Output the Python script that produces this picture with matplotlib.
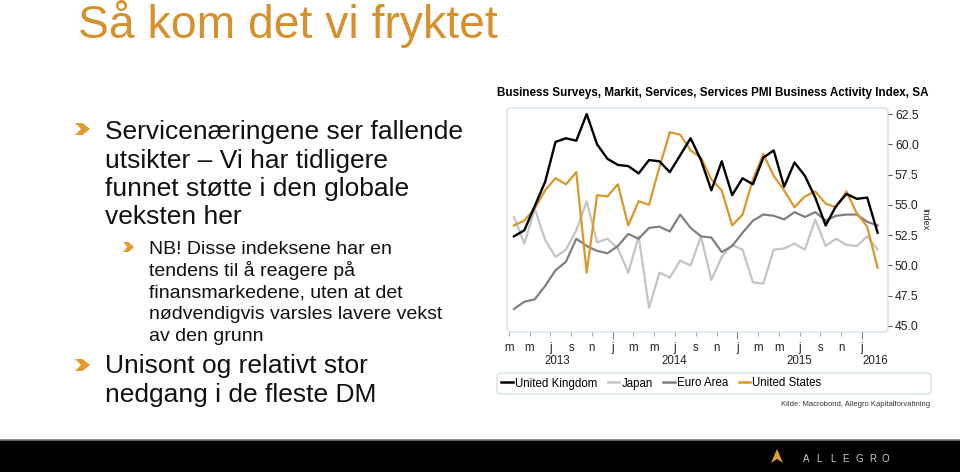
import numpy as np
import matplotlib
matplotlib.use('Agg')
import matplotlib.pyplot as plt
from matplotlib.patches import FancyBboxPatch, Rectangle, Polygon
from matplotlib.lines import Line2D

plt.rcParams['font.family'] = ['Liberation Sans', 'DejaVu Sans']

# Services PMI, månedlig, mars 2013 - februar 2016
uk = [52.4, 52.9, 54.9, 56.9, 60.2, 60.5, 60.3, 62.5, 60.0, 58.8,
      58.3, 58.2, 57.6, 58.7, 58.6, 57.7, 59.1, 60.5, 58.7, 56.2,
      58.6, 55.8, 57.2, 56.7, 58.9, 59.5, 56.5, 58.5, 57.4, 55.6,
      53.3, 54.9, 55.9, 55.5, 55.6, 52.7]
japan = [54.0, 51.8, 54.7, 52.1, 50.7, 51.3, 52.9, 55.3, 51.9, 52.2,
         51.4, 49.4, 52.4, 46.5, 49.4, 49.0, 50.4, 50.0, 52.4, 48.8,
         50.7, 51.7, 51.3, 48.6, 48.5, 51.3, 51.4, 51.8, 51.3, 53.8,
         51.6, 52.2, 51.7, 51.6, 52.4, 51.3]
euro = [46.4, 47.0, 47.2, 48.3, 49.6, 50.3, 52.2, 51.6, 51.2, 51.0,
        51.6, 52.6, 52.2, 53.1, 53.2, 52.8, 54.2, 53.1, 52.4, 52.3,
        51.1, 51.6, 52.7, 53.7, 54.2, 54.1, 53.8, 54.4, 54.0, 54.4,
        53.7, 54.1, 54.2, 54.2, 53.6, 53.3]
us = [53.3, 53.7, 54.7, 56.2, 57.2, 56.7, 57.7, 49.4, 55.8, 55.7,
      56.7, 53.3, 55.3, 55.0, 58.1, 61.0, 60.8, 59.5, 58.9, 57.1,
      56.2, 53.3, 54.2, 57.1, 59.2, 57.4, 56.2, 54.8, 55.7, 56.1,
      55.1, 54.8, 56.1, 54.3, 53.2, 49.8]

month_labels = ['m', 'm', 'j', 's', 'n', 'j'] * 3
years = ['2013', '2014', '2015', '2016']
year_pos = [4.2, 15.4, 27.5, 34.8]
yticks = [45.0, 47.5, 50.0, 52.5, 55.0, 57.5, 60.0, 62.5]

ORANGE = '#D6912C'
US_COL = '#D9982A'
FRAME = '#D3E2E2'

W, H = 960, 472


def fx(x):
    return x / W


def fy(y):
    return 1 - y / H


def chevron(x0, y0, w, h, color):
    # pilspiss-punkt, tegnet i pikselkoordinater
    pts = [(x0, y0), (x0 + 0.5 * w, y0), (x0 + w, y0 + h / 2),
           (x0 + 0.5 * w, y0 + h), (x0, y0 + h), (x0 + 0.4 * w, y0 + h / 2)]
    fig.add_artist(Polygon([(fx(a), fy(b)) for a, b in pts], closed=True,
                           transform=fig.transFigure, fc=color, ec='none'))


fig = plt.figure(figsize=(9.6, 4.72), dpi=100)
fig.patch.set_facecolor('white')

# tittel
fig.text(fx(78), fy(37.5), 'Så kom det vi fryktet', fontsize=33.3, color=ORANGE, va='baseline')

# punkter til venstre
main1 = ['Servicenæringene ser fallende', 'utsikter – Vi har tidligere',
         'funnet støtte i den globale', 'veksten her']
sub1 = ['NB! Disse indeksene har en', 'tendens til å reagere på',
        'finansmarkedene, uten at det', 'nødvendigvis varsles lavere vekst',
        'av den grunn']
main2 = ['Unisont og relativt stor', 'nedgang i de fleste DM']

for i, line in enumerate(main1):
    fig.text(fx(105), fy(139.3 + 28.4 * i), line, fontsize=19, color='#111111', va='baseline')
for i, line in enumerate(sub1):
    fig.text(fx(149), fy(254 + 21.7 * i), line, fontsize=14, color='#111111', va='baseline')
for i, line in enumerate(main2):
    fig.text(fx(105), fy(373.3 + 28.4 * i), line, fontsize=19, color='#111111', va='baseline')

chevron(75, 123, 15, 12, '#E39A2A')
chevron(123, 242, 11, 10, '#E39A2A')
chevron(75, 359, 15, 12, '#E39A2A')

# diagram
fig.text(fx(497), fy(93), 'Business Surveys, Markit, Services, Services PMI Business Activity Index, SA',
         fontsize=8.4, fontweight='bold', va='center', ha='left')

ax = fig.add_axes([fx(507), fy(332), (888 - 507) / W, (332 - 108) / H])
x = np.arange(len(uk))
ax.plot(x, japan, color='#C4C4C4', lw=1.6, zorder=2)
ax.plot(x, euro, color='#808080', lw=1.6, zorder=3)
ax.plot(x, us, color=US_COL, lw=1.6, zorder=4)
ax.plot(x, uk, color='black', lw=1.7, zorder=5)

ax.set_xlim(-0.67, 36)
ax.set_ylim(44.5, 63.0)
for s in ax.spines.values():
    s.set_visible(False)
ax.add_patch(FancyBboxPatch((0, 0), 1, 1, boxstyle='round,pad=0,rounding_size=0.015',
                            transform=ax.transAxes, fc='none', ec=FRAME, lw=1.0,
                            clip_on=False, zorder=1))

ax.yaxis.tick_right()
ax.set_yticks(yticks)
ax.set_yticklabels([f'{v:.1f}' for v in yticks])
ax.tick_params(axis='y', which='both', length=3, width=0.8, color='#555555', pad=2,
               labelsize=8.8, labelcolor='#222222', left=False)

tick_pos = [-0.5 + 2 * k for k in range(18)]
jan_idx = (5, 11, 17)
major = [tick_pos[i] for i in jan_idx]
minor = [p for i, p in enumerate(tick_pos) if i not in jan_idx]
ax.set_xticks(major)
ax.set_xticklabels([month_labels[i] for i in jan_idx])
ax.set_xticks(minor, minor=True)
ax.set_xticklabels([m for i, m in enumerate(month_labels) if i not in jan_idx], minor=True)
ax.tick_params(axis='x', which='major', length=5, width=0.8, color='#888888', pad=2,
               labelsize=8.3, labelcolor='#222222')
ax.tick_params(axis='x', which='minor', length=3, width=0.8, color='#AAAAAA', pad=4,
               labelsize=8.3, labelcolor='#222222')

for yr, pos in zip(years, year_pos):
    ax.text(pos, -0.128, yr, transform=ax.get_xaxis_transform(), ha='center', va='center',
            fontsize=8.3, color='#222222')

fig.text(fx(925), fy(219), 'Index', rotation=270, fontsize=6.5, ha='center', va='center',
         color='#222222')

# legende
fig.add_artist(FancyBboxPatch((fx(497), fy(394)), (931 - 497) / W, (394 - 373) / H,
                              boxstyle='round,pad=0,rounding_size=0.006',
                              transform=fig.transFigure, fc='none', ec=FRAME, lw=1.0))
handles = [Line2D([], [], color='black', lw=1.8),
           Line2D([], [], color='#C4C4C4', lw=1.8),
           Line2D([], [], color='#808080', lw=1.8),
           Line2D([], [], color=US_COL, lw=1.8)]
labels = ['United Kingdom', 'Japan', 'Euro Area', 'United States']
fig.legend(handles, labels, loc='center left', bbox_to_anchor=(fx(501), fy(383.5)), ncol=4,
           frameon=False, handlelength=1.0, handletextpad=0.2, columnspacing=0.9,
           fontsize=8.3, borderaxespad=0, borderpad=0)

fig.text(fx(930), fy(405), 'Kilde: Macrobond, Allegro Kapitalforvaltning', ha='right',
         va='center', fontsize=5.5, color='#333333')

# bunnlinje med logo
fig.add_artist(Rectangle((0, 0), 1, fy(440), transform=fig.transFigure, fc='black', ec='none'))
fig.add_artist(Line2D([0, 1], [fy(440), fy(440)], transform=fig.transFigure, color='#777777', lw=1.2))
fig.add_artist(Polygon([(fx(771), fy(463)), (fx(777), fy(449)), (fx(783), fy(463)),
                        (fx(777), fy(459))], closed=True, transform=fig.transFigure,
                       fc='#E0A030', ec='none'))
for i, ch in enumerate('ALLEGRO'):
    fig.text(fx(806 + 13.3 * i), fy(459), ch, fontsize=7, color='#CCCCCC', ha='center',
             va='center')

fig.savefig('out.png', dpi=100)
